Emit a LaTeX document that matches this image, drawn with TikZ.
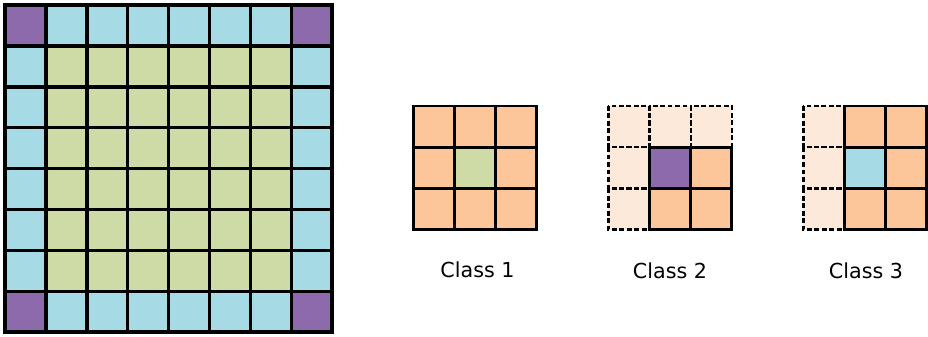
\documentclass[tikz,border=0pt]{standalone}
\usepackage{fontspec}
\setmainfont{DejaVu Sans}
\definecolor{cornerpurple}{RGB}{140,106,172}
\definecolor{edgeblue}{RGB}{166,218,228}
\definecolor{innergreen}{RGB}{206,219,167}
\definecolor{nbrorange}{RGB}{252,197,154}
\definecolor{padpeach}{RGB}{253,233,218}
\tikzset{
  gridline/.style={draw=black, line width=2.6pt},
  cellline/.style={draw=black, line width=2.2pt},
  padline/.style={draw=black, line width=1.8pt, dash pattern=on 3.6pt off 2pt},
  classlabel/.style={font=\fontsize{15.5}{18}\selectfont, anchor=base, inner sep=0pt},
}
\begin{document}
\begin{tikzpicture}[x=0.75pt, y=-0.75pt]
\useasboundingbox (0,0) rectangle (928,336);
\fill[white] (0,0) rectangle (928,336);

% ---- 8x8 image grid: corners, edges, interior ----
\def\gx{5}\def\gy{5}\def\gs{40.9}
\foreach \i in {0,...,7}{
  \foreach \j in {0,...,7}{
    \pgfmathtruncatemacro{\isrow}{(\i==0 || \i==7) ? 1 : 0}
    \pgfmathtruncatemacro{\iscol}{(\j==0 || \j==7) ? 1 : 0}
    \pgfmathtruncatemacro{\kind}{\isrow+\iscol}
    \ifcase\kind
      \def\cc{innergreen}\or\def\cc{edgeblue}\or\def\cc{cornerpurple}\fi
    \fill[\cc] (\gx+\j*\gs, \gy+\i*\gs) rectangle ++(\gs,\gs);
  }
}
\foreach \k in {0,...,8}{
  \draw[gridline, line cap=rect] (\gx+\k*\gs, \gy) -- (\gx+\k*\gs, \gy+8*\gs);
  \draw[gridline, line cap=rect] (\gx, \gy+\k*\gs) -- (\gx+8*\gs, \gy+\k*\gs);
}

% ---- 3x3 neighbourhoods ----
\def\cs{41.2}\def\ct{106}
% Class 1: full neighbourhood around an interior pixel
\def\ax{413.3}
\foreach \i in {0,1,2}{\foreach \j in {0,1,2}{
  \fill[nbrorange] (\ax+\j*\cs, \ct+\i*\cs) rectangle ++(\cs,\cs);}}
\fill[innergreen] (\ax+\cs, \ct+\cs) rectangle ++(\cs,\cs);
\foreach \k in {0,...,3}{
  \draw[cellline, line cap=rect] (\ax+\k*\cs, \ct) -- (\ax+\k*\cs, \ct+3*\cs);
  \draw[cellline, line cap=rect] (\ax, \ct+\k*\cs) -- (\ax+3*\cs, \ct+\k*\cs);
}

% Class 2: corner pixel, top row and left column padded
\def\bx{608.3}
\foreach \i/\j in {0/0,0/1,0/2,1/0,2/0}{
  \fill[padpeach] (\bx+\j*\cs, \ct+\i*\cs) rectangle ++(\cs,\cs);}
\foreach \i/\j in {1/2,2/1,2/2}{
  \fill[nbrorange] (\bx+\j*\cs, \ct+\i*\cs) rectangle ++(\cs,\cs);}
\fill[cornerpurple] (\bx+\cs, \ct+\cs) rectangle ++(\cs,\cs);
\foreach \i/\j in {0/0,0/1,0/2,1/0,2/0}{
  \draw[padline] (\bx+\j*\cs, \ct+\i*\cs) rectangle ++(\cs,\cs);}
\foreach \i/\j in {1/1,1/2,2/1,2/2}{
  \draw[cellline] (\bx+\j*\cs, \ct+\i*\cs) rectangle ++(\cs,\cs);}

% Class 3: edge pixel, left column padded
\def\dx{803.3}
\foreach \i in {0,1,2}{
  \fill[padpeach] (\dx, \ct+\i*\cs) rectangle ++(\cs,\cs);
  \fill[nbrorange] (\dx+\cs, \ct+\i*\cs) rectangle ++(2*\cs,\cs);}
\fill[edgeblue] (\dx+\cs, \ct+\cs) rectangle ++(\cs,\cs);
\foreach \i in {0,1,2}{
  \draw[padline] (\dx, \ct+\i*\cs) rectangle ++(\cs,\cs);}
\foreach \i in {0,1,2}{\foreach \j in {1,2}{
  \draw[cellline] (\dx+\j*\cs, \ct+\i*\cs) rectangle ++(\cs,\cs);}}

% ---- labels ----
\node[classlabel] (lab1) at (477.5,277) {Class 1};
\node[classlabel] (lab2) at (670,278) {Class 2};
\node[classlabel] (lab3) at (866,278) {Class 3};
\end{tikzpicture}
\end{document}
